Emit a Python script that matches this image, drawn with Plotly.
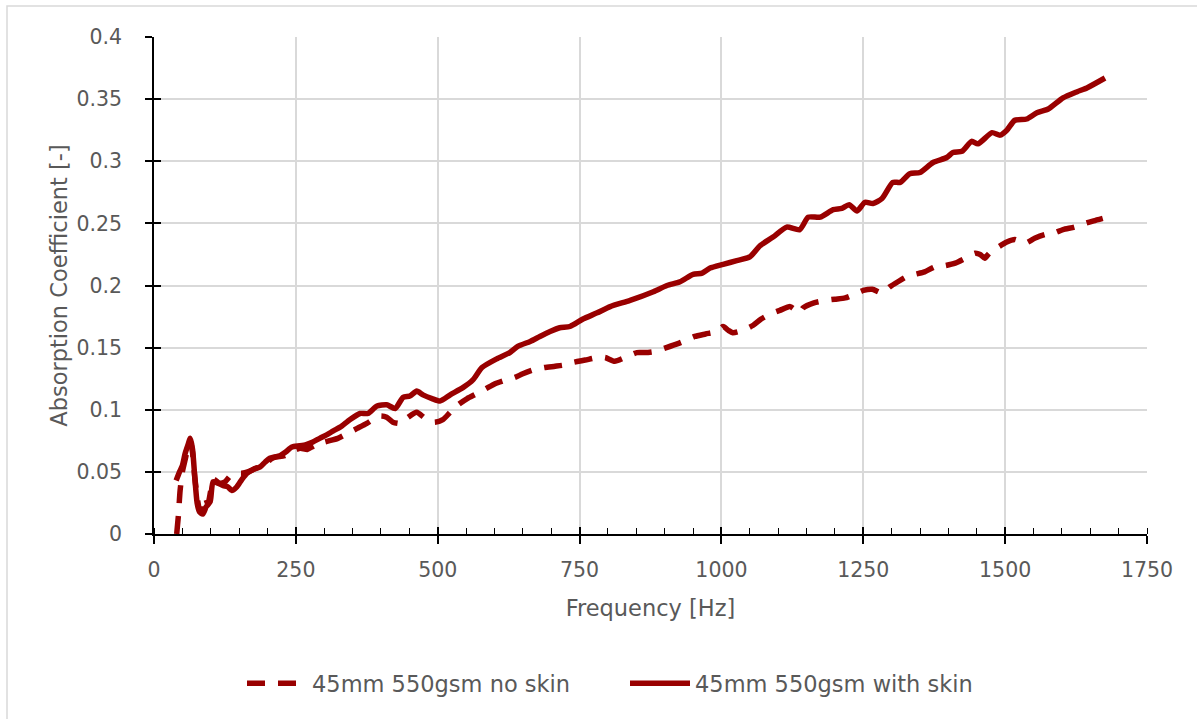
import plotly.graph_objects as go

# ---------- data ----------
freq_skin = [39, 45, 50, 55, 60, 64, 68, 72, 76, 80, 86, 92, 99, 104, 112, 122, 130, 137, 146, 155,
             164, 175, 187, 196, 204, 213, 222, 232, 243, 257, 268, 280, 292, 305, 316, 328, 345, 363,
             377, 393, 410, 425, 439, 451, 463, 474, 490, 504, 522, 545, 562, 578, 604, 627, 641, 663,
             680, 698, 715, 733, 756, 781, 804, 839, 880, 904, 927, 950, 966, 980, 1003, 1027, 1050,
             1068, 1091, 1115, 1138, 1153, 1174, 1197, 1212, 1225, 1239, 1253, 1267, 1283, 1302, 1315,
             1332, 1350, 1373, 1397, 1408, 1424, 1441, 1452, 1477, 1491, 1503, 1517, 1538, 1556, 1576,
             1602, 1627, 1644, 1676]
alpha_skin = [0.043, 0.050, 0.055, 0.065, 0.072, 0.077, 0.068, 0.045, 0.025, 0.018, 0.016, 0.022,
              0.026, 0.042, 0.041, 0.039, 0.038, 0.035, 0.038, 0.044, 0.049, 0.052, 0.054, 0.058,
              0.061, 0.062, 0.063, 0.066, 0.070, 0.071, 0.072, 0.074, 0.077, 0.080, 0.083, 0.086,
              0.092, 0.097, 0.097, 0.103, 0.104, 0.101, 0.110, 0.111, 0.115, 0.112, 0.109, 0.107,
              0.112, 0.118, 0.124, 0.134, 0.141, 0.146, 0.151, 0.155, 0.159, 0.163, 0.166, 0.167,
              0.173, 0.178, 0.183, 0.188, 0.195, 0.200, 0.203, 0.209, 0.210, 0.214, 0.217, 0.220,
              0.223, 0.232, 0.239, 0.247, 0.245, 0.255, 0.255, 0.261, 0.262, 0.265, 0.260, 0.267,
              0.266, 0.270, 0.283, 0.283, 0.290, 0.291, 0.299, 0.303, 0.307, 0.308, 0.316, 0.314,
              0.323, 0.321, 0.325, 0.333, 0.334, 0.339, 0.342, 0.351, 0.356, 0.359, 0.367]

freq_noskin = [40, 43, 46, 50, 55, 60, 64, 68, 72, 76, 80, 85, 90, 95, 100, 105, 115, 125, 135, 145,
               155, 165, 180, 195, 205, 215, 230, 245, 258, 270, 282, 300, 324, 341, 358, 375, 389,
               400, 410, 421, 435, 448, 463, 478, 494, 509, 522, 536, 552, 569, 585, 601, 620, 636,
               650, 668, 688, 707, 723, 738, 760, 781, 795, 812, 830, 851, 866, 883, 903, 922, 938,
               953, 972, 992, 1003, 1012, 1020, 1038, 1056, 1070, 1086, 1103, 1121, 1131, 1138, 1144,
               1163, 1183, 1200, 1218, 1235, 1250, 1266, 1283, 1297, 1311, 1326, 1341, 1358, 1376,
               1394, 1412, 1430, 1447, 1456, 1464, 1472, 1488, 1503, 1517, 1535, 1552, 1570, 1585,
               1602, 1622, 1641, 1656, 1672]
alpha_noskin = [0.0, 0.015, 0.035, 0.050, 0.060, 0.070, 0.075, 0.065, 0.045, 0.030, 0.020, 0.018,
                0.030, 0.024, 0.035, 0.044, 0.041, 0.042, 0.047, 0.049, 0.049, 0.050, 0.053, 0.055,
                0.060, 0.062, 0.063, 0.067, 0.069, 0.068, 0.071, 0.074, 0.077, 0.081, 0.085, 0.089,
                0.093, 0.095, 0.094, 0.090, 0.089, 0.094, 0.098, 0.093, 0.090, 0.092, 0.098, 0.104,
                0.109, 0.113, 0.117, 0.121, 0.124, 0.126, 0.129, 0.132, 0.134, 0.135, 0.136, 0.138,
                0.140, 0.142, 0.142, 0.139, 0.142, 0.146, 0.146, 0.147, 0.150, 0.153, 0.156, 0.159,
                0.161, 0.163, 0.167, 0.164, 0.162, 0.164, 0.168, 0.173, 0.177, 0.180, 0.183, 0.180,
                0.178, 0.182, 0.186, 0.188, 0.189, 0.190, 0.193, 0.196, 0.197, 0.194, 0.199, 0.203,
                0.207, 0.209, 0.211, 0.215, 0.216, 0.218, 0.222, 0.226, 0.225, 0.222, 0.226, 0.231,
                0.235, 0.237, 0.234, 0.238, 0.241, 0.242, 0.245, 0.247, 0.250, 0.252, 0.254]

series_names = ["45mm 550gsm no skin", "45mm 550gsm with skin"]
x_title = "Frequency [Hz]"
y_title = "Absorption Coefficient [-]"

# ---------- styling ----------
RED = "#990000"
GRID = "#D9D9D9"
TXT = "#595959"
FONT = "'DejaVu Sans', sans-serif"
TICK_SIZE = 20.5
TEXT_SIZE = 22.5

fig = go.Figure()
fig.add_trace(go.Scatter(x=freq_noskin, y=alpha_noskin, mode="lines", name=series_names[0],
                         line=dict(color=RED, width=5.5, dash="18px,13px", shape="spline", smoothing=0.6)))
fig.add_trace(go.Scatter(x=freq_skin, y=alpha_skin, mode="lines", name=series_names[1],
                         line=dict(color=RED, width=5.5, shape="spline", smoothing=0.6)))

fig.update_layout(
    width=1197, height=719,
    margin=dict(l=154, r=50, t=37, b=185),
    paper_bgcolor="white", plot_bgcolor="white",
    font=dict(family=FONT, color=TXT, size=TICK_SIZE),
    showlegend=True,
    legend=dict(orientation="h", x=(242 - 154) / 993, xanchor="left", y=-0.258, yanchor="top",
                font=dict(size=TEXT_SIZE, color=TXT), itemwidth=60, tracegroupgap=0,
                entrywidth=308, entrywidthmode="pixels"),
    xaxis=dict(range=[0, 1750], dtick=250, tick0=0, showgrid=True, gridcolor=GRID, gridwidth=1.5,
               zeroline=False, showline=True, linecolor="black", linewidth=1.5,
               ticks="outside", ticklen=8, tickcolor="black", tickwidth=1.5,
               ticklabelstandoff=9,
               minor=dict(dtick=50, ticks="inside", ticklen=6, tickcolor="black", tickwidth=1.2, showgrid=False),
               title=dict(text=x_title, font=dict(size=TEXT_SIZE, color=TXT), standoff=19),
               tickfont=dict(size=TICK_SIZE, color=TXT)),
    yaxis=dict(range=[0, 0.4], dtick=0.05, tick0=0, showgrid=True, gridcolor=GRID, gridwidth=1.5,
               zeroline=False, showline=True, linecolor="black", linewidth=1.5,
               ticks="outside", ticklen=7, tickcolor="black", tickwidth=1.5,
               ticklabelstandoff=19,
               title=dict(text=y_title, font=dict(size=TEXT_SIZE, color=TXT), standoff=3),
               tickfont=dict(size=TICK_SIZE, color=TXT)),
    # overlay axes only to draw the inner half of the crossing major tick marks
    xaxis2=dict(range=[0, 1750], dtick=250, tick0=0, overlaying="x", anchor="y", side="bottom",
                showgrid=False, zeroline=False, showticklabels=False, showline=False,
                ticks="inside", ticklen=7, tickcolor="black", tickwidth=1.5),
    yaxis2=dict(range=[0, 0.4], dtick=0.05, tick0=0, overlaying="y", anchor="x", side="left",
                showgrid=False, zeroline=False, showticklabels=False, showline=False,
                ticks="inside", ticklen=7, tickcolor="black", tickwidth=1.5),
)

# chart-area frame (cropped at right/bottom in the reference)
fig.add_shape(type="rect", xref="paper", yref="paper",
              x0=(7 - 154) / 993, x1=(1210 - 154) / 993,
              y0=(534 - 730) / 497, y1=(534 - 6) / 497,
              line=dict(color=GRID, width=1.5), fillcolor="rgba(0,0,0,0)", layer="below")

# invisible trace so the overlay axes render
fig.add_trace(go.Scatter(x=[None], y=[None], xaxis="x2", yaxis="y2", showlegend=False, hoverinfo="skip"))

fig.write_html("out.html")
